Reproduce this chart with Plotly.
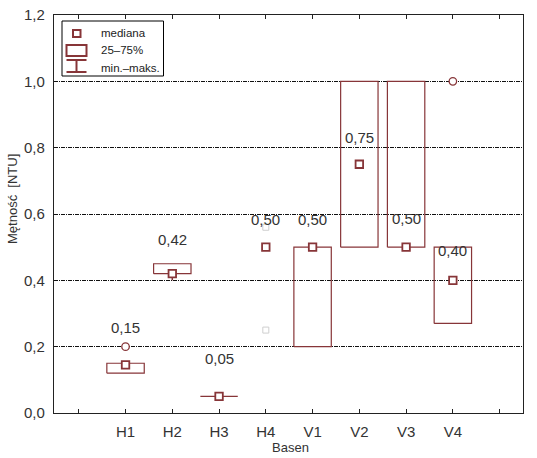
import plotly.graph_objects as go

# ---- data ----
categories = ["H1", "H2", "H3", "H4", "V1", "V2", "V3", "V4"]
medians    = [0.145, 0.42, 0.05, 0.50, 0.50, 0.75, 0.50, 0.40]
q1         = [0.12, 0.42, 0.05, None, 0.20, 0.50, 0.50, 0.27]
q3         = [0.15, 0.45, 0.05, None, 0.50, 1.00, 1.00, 0.50]
mins       = [None, 0.40, None, None, None, None, None, None]
outlier_cat = ["H1", "V4"]
outlier_val = [0.20, 1.00]
faint_cat  = ["H4", "H4"]
faint_val  = [0.56, 0.25]
label_text = ["0,15", "0,42", "0,05", "0,50", "0,50", "0,75", "0,50", "0,40"]
label_y    = [0.257, 0.522, 0.165, 0.582, 0.582, 0.83, 0.585, 0.49]
y_ticks    = [0.0, 0.2, 0.4, 0.6, 0.8, 1.0, 1.2]

RED = "#873538"
FONT = "Liberation Sans, Arial, sans-serif"
W, H = 537, 458
ML, MR, MT, MB = 54, 14, 15, 45

pos = {c: i + 1 for i, c in enumerate(categories)}
HW = 0.4

fig = go.Figure()

# boxes
for c, a, b in zip(categories, q1, q3):
    if a is None:
        continue
    x0, x1 = pos[c] - HW, pos[c] + HW
    fig.add_trace(go.Scatter(x=[x0, x1, x1, x0, x0], y=[a, a, b, b, a],
                             mode="lines", line=dict(color=RED, width=1.2),
                             hoverinfo="skip", showlegend=False))
# whiskers
for c, m, a in zip(categories, mins, q1):
    if m is None:
        continue
    fig.add_trace(go.Scatter(x=[pos[c], pos[c]], y=[m, a], mode="lines",
                             line=dict(color=RED, width=1.5), showlegend=False))

# faint marks
fig.add_trace(go.Scatter(x=[pos[c] for c in faint_cat], y=faint_val, mode="markers",
                         marker=dict(symbol="square-open", size=6, color="#cfcfcf",
                                     line=dict(width=1)), showlegend=False))
# medians
fig.add_trace(go.Scatter(x=[pos[c] for c in categories], y=medians, mode="markers",
                         marker=dict(symbol="square", size=7.5, color="white",
                                     line=dict(color=RED, width=1.8)), showlegend=False))
# outliers
fig.add_trace(go.Scatter(x=[pos[c] for c in outlier_cat], y=outlier_val, mode="markers",
                         marker=dict(symbol="circle", size=7.5, color="white",
                                     line=dict(color=RED, width=1.3)), showlegend=False))

# value labels
for c, t, yv in zip(categories, label_text, label_y):
    fig.add_annotation(x=pos[c], y=yv, text=t, showarrow=False,
                       font=dict(size=15, color="#333333", family=FONT))

# legend (drawn manually)
pw, ph = W - ML - MR, H - MT - MB
def px(x):
    return (x - ML) / pw
def py(y):
    return (H - MB - y) / ph

shapes = [
    dict(type="rect", xref="paper", yref="paper", x0=px(62), x1=px(163.5), y0=py(76), y1=py(21),
         line=dict(color="black", width=1), fillcolor="white"),
    dict(type="rect", xref="paper", yref="paper", x0=px(73), x1=px(80.5), y0=py(37), y1=py(30),
         line=dict(color=RED, width=2)),
    dict(type="rect", xref="paper", yref="paper", x0=px(66.5), x1=px(86.5), y0=py(56), y1=py(45),
         line=dict(color=RED, width=2)),
    dict(type="line", xref="paper", yref="paper", x0=px(66.5), x1=px(86.5), y0=py(60), y1=py(60),
         line=dict(color=RED, width=2)),
    dict(type="line", xref="paper", yref="paper", x0=px(76.5), x1=px(76.5), y0=py(60), y1=py(72),
         line=dict(color=RED, width=2)),
    dict(type="line", xref="paper", yref="paper", x0=px(66.5), x1=px(86.5), y0=py(72), y1=py(72),
         line=dict(color=RED, width=2)),
]
for t, yy in [("mediana", 32.5), ("25–75%", 50.5), ("min.–maks.", 67.5)]:
    fig.add_annotation(xref="paper", yref="paper", x=px(99), y=py(yy), text=t,
                       showarrow=False, xanchor="left", yanchor="middle",
                       font=dict(size=11.5, color="#222222", family=FONT))

# axis titles as annotations for precise placement
fig.add_annotation(xref="paper", yref="paper", x=px(12), y=py(199), text="Mętność  [NTU]",
                   textangle=-90, showarrow=False, xanchor="center", yanchor="middle",
                   font=dict(size=13, color="#333333", family=FONT))
fig.add_annotation(xref="paper", yref="paper", x=px(290), y=py(447), text="Basen",
                   showarrow=False, xanchor="center", yanchor="middle",
                   font=dict(size=13, color="#333333", family=FONT))

fig.update_layout(
    width=W, height=H, margin=dict(l=ML, r=MR, t=MT, b=MB, autoexpand=False),
    plot_bgcolor="white", paper_bgcolor="white", shapes=shapes,
    font=dict(family=FONT, color="#333333"),
    showlegend=False,
)
fig.update_xaxes(
    range=[-0.53, 9.5], tickvals=list(range(0, 10)),
    ticktext=[""] + categories + [""],
    ticks="inside", ticklen=4, tickcolor="#222", tickwidth=1,
    showline=True, linecolor="#222", linewidth=1.3, mirror="ticks",
    showgrid=False, zeroline=False, ticklabelstandoff=5, automargin=False,
    tickfont=dict(size=15, color="#333333", family=FONT),
)
fig.update_yaxes(
    range=[0, 1.2], tickvals=y_ticks,
    ticktext=[f"{v:.1f}".replace(".", ",") for v in y_ticks],
    ticks="", showline=True, linecolor="#222", linewidth=1.3, mirror=True,
    showgrid=True, gridcolor="#111111", gridwidth=1, griddash="4px,1px,1px,1px",
    zeroline=False, ticklabelstandoff=5, automargin=False,
    tickfont=dict(size=15, color="#333333", family=FONT),
)

fig.write_html("out.html")
